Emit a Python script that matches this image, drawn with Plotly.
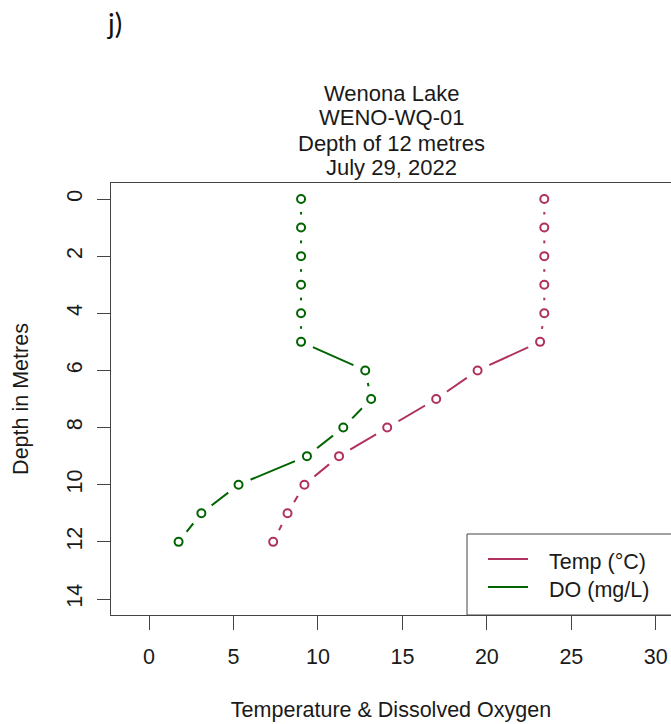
import plotly.graph_objects as go

# ---- data ----
depth = [0, 1, 2, 3, 4, 5, 6, 7, 8, 9, 10, 11, 12]
temp_c = [23.4, 23.4, 23.4, 23.4, 23.4, 23.15, 19.45, 17.0, 14.1, 11.25, 9.2, 8.2, 7.35]
do_mgl = [9.0, 9.0, 9.0, 9.0, 9.0, 9.0, 12.8, 13.15, 11.5, 9.35, 5.3, 3.1, 1.75]
series_names = ["Temp (°C)", "DO (mg/L)"]
x_ticks = [0, 5, 10, 15, 20, 25, 30]
y_ticks = [0, 2, 4, 6, 8, 10, 12, 14]
title_lines = ["Wenona Lake", "WENO-WQ-01", "Depth of 12 metres", "July 29, 2022"]
panel_label = "j)"

TEMP_COL = "#B03060"
DO_COL = "#006400"
COLS = [TEMP_COL, DO_COL]
FONT = "Liberation Sans, Arial, sans-serif"
FS = 21.5
AX = "#444444"

# page body margin is removed below, so figure coords = page coords
W, H = 671, 724
ML, MR, MT, MB = 111, 0, 183, 724 - 615
PW = W - ML - MR
PH = H - MT - MB


def px2x(px):
    return (px - ML) / PW


def py2y(py):
    return (H - MB - py) / PH


fig = go.Figure()

for name, vals, col in zip(series_names, [temp_c, do_mgl], COLS):
    fig.add_trace(go.Scatter(x=vals, y=depth, mode="lines", name=name, showlegend=False,
                             line=dict(color=col, width=2), hoverinfo="skip"))
    fig.add_trace(go.Scatter(x=vals, y=depth, mode="markers", showlegend=False,
                             marker=dict(symbol="circle", size=26, color="white",
                                         line=dict(width=0)), hoverinfo="skip"))
    fig.add_trace(go.Scatter(x=vals, y=depth, mode="markers", showlegend=False, name=name,
                             marker=dict(symbol="circle-open", size=8, color=col,
                                         line=dict(width=2, color=col))))

annotations = []
baselines = [101, 126, 151, 175]
for txt, b in zip(title_lines, baselines):
    annotations.append(dict(text=txt, xref="paper", yref="paper", x=0.5,
                            y=py2y(b - 8), xanchor="center", yanchor="middle",
                            showarrow=False, font=dict(family=FONT, size=22, color="#1a1a1a")))
annotations.append(dict(text=panel_label, xref="paper", yref="paper",
                        x=px2x(114), y=py2y(23), xanchor="center",
                        yanchor="middle", showarrow=False,
                        font=dict(family="Lato, Open Sans, sans-serif", size=28, color="#111")))

# legend (drawn manually, R-style box)
shapes = [dict(type="rect", xref="paper", yref="paper", x0=px2x(467), x1=1.2,
               y0=0, y1=py2y(534), line=dict(color=AX, width=1), fillcolor="white",
               layer="above")]
leg_rows = [559, 587]
for name, col, ly in zip(series_names, COLS, leg_rows):
    shapes.append(dict(type="line", xref="paper", yref="paper", x0=px2x(488), x1=px2x(528),
                       y0=py2y(ly), y1=py2y(ly), line=dict(color=col, width=2), layer="above"))
    annotations.append(dict(text=name, xref="paper", yref="paper", x=px2x(547),
                            y=py2y(ly + 3), xanchor="left", yanchor="middle",
                            showarrow=False, font=dict(family=FONT, size=FS, color="#1a1a1a")))

fig.update_layout(
    width=W, height=H,
    margin=dict(l=ML, r=MR, t=MT, b=MB, autoexpand=False),
    paper_bgcolor="white", plot_bgcolor="white",
    font=dict(family=FONT, size=FS, color="#1a1a1a"),
    showlegend=False,
    annotations=annotations,
    shapes=shapes,
)

fig.update_xaxes(range=[-2.25, 30.9], tickvals=x_ticks, ticks="outside", ticklen=14,
                 tickcolor=AX, showline=True, linecolor=AX, linewidth=1, mirror=True,
                 showgrid=False, zeroline=False, ticklabelstandoff=8,
                 title=dict(text="Temperature & Dissolved Oxygen", standoff=34,
                            font=dict(family=FONT, size=FS)))
fig.update_yaxes(range=[14.56, -0.56], tickvals=y_ticks, ticks="outside", ticklen=13,
                 tickcolor=AX, showline=True, linecolor=AX, linewidth=1,
                 showgrid=False, zeroline=False, tickangle=-90, ticklabelstandoff=6,
                 title=dict(text="Depth in Metres", standoff=28,
                            font=dict(family=FONT, size=FS)))

fig.write_html("out.html",
               config={"displayModeBar": False},
               post_script="document.body.style.margin='0';document.body.style.overflow='hidden';")
